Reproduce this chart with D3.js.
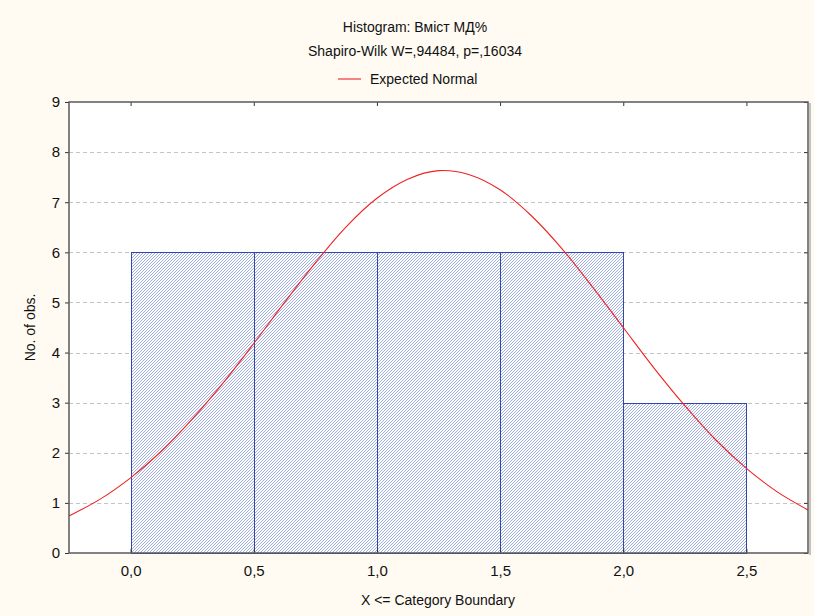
<!doctype html>
<html>
<head>
<meta charset="utf-8">
<script src="https://d3js.org/d3.v7.min.js"></script>
<style>
  body { margin: 0; background: #fffbf3; }
  svg { display: block; font-family: "Liberation Sans", Arial, sans-serif; }
</style>
</head>
<body>
<div id="chart"></div>
<script>
// histogram bins (upper boundary) and counts
var binStarts = [0.0, 0.5, 1.0, 1.5, 2.0];
var binWidth = 0.5;
var counts = [6, 6, 6, 6, 3];

// expected normal curve
var curveX = [-0.25, -0.125, 0, 0.125, 0.25, 0.375, 0.5, 0.625, 0.75, 0.875, 1.0, 1.125, 1.25,
              1.375, 1.5, 1.625, 1.75, 1.875, 2.0, 2.125, 2.25, 2.375, 2.5, 2.625, 2.75];
var curveY = [0.74, 1.07, 1.50, 2.03, 2.67, 3.39, 4.18, 5.00, 5.79, 6.51, 7.08, 7.46, 7.63,
              7.55, 7.25, 6.74, 6.08, 5.31, 4.50, 3.69, 2.94, 2.26, 1.69, 1.22, 0.86];

var xTicks = [0, 0.5, 1.0, 1.5, 2.0, 2.5];
var yTicks = [0, 1, 2, 3, 4, 5, 6, 7, 8, 9];

var title = "Histogram: Вміст МД%";
var subtitle = "Shapiro-Wilk W=,94484, p=,16034";

var width = 814, height = 616;
var margin = { left: 69, right: 6, top: 102, bottom: 63 };
var gWidth = width - margin.left - margin.right;
var gHeight = height - margin.top - margin.bottom;

var svg = d3.select("#chart").append("svg")
    .attr("width", width)
    .attr("height", height);

svg.append("rect").attr("width", width).attr("height", height).attr("fill", "#fffbf3");

var defs = svg.append("defs");
var pat = defs.append("pattern")
    .attr("id", "hatch")
    .attr("patternUnits", "userSpaceOnUse")
    .attr("width", 3).attr("height", 3);
pat.append("rect").attr("width", 3).attr("height", 3).attr("fill", "#ffffff");
pat.append("path")
    .attr("d", "M-1,1 l2,-2 M0,3 l3,-3 M2,4 l2,-2")
    .attr("stroke", "#7d92d8")
    .attr("stroke-width", 0.75);

var x = d3.scaleLinear().domain([-0.25, 2.75]).range([0, gWidth]);
var y = d3.scaleLinear().domain([0, 9]).range([gHeight, 0]);

var g = svg.append("g")
    .attr("transform", "translate(" + margin.left + "," + margin.top + ")");

g.append("rect")
    .attr("width", gWidth).attr("height", gHeight)
    .attr("fill", "#ffffff");

// grid
g.selectAll(".grid")
    .data(yTicks.filter(function(d) { return d > 0 && d < 9; }))
    .enter().append("line")
    .attr("x1", 0).attr("x2", gWidth)
    .attr("y1", function(d) { return Math.round(y(d)) + 0.5; })
    .attr("y2", function(d) { return Math.round(y(d)) + 0.5; })
    .attr("stroke", "#c4c4c4")
    .attr("stroke-dasharray", "4,3");

// bars
g.selectAll(".bar")
    .data(counts)
    .enter().append("rect")
    .attr("x", function(d, i) { return Math.round(x(binStarts[i])) + 0.5; })
    .attr("width", function(d, i) { return Math.round(x(binStarts[i] + binWidth)) - Math.round(x(binStarts[i])); })
    .attr("y", function(d) { return Math.round(y(d)) + 0.5; })
    .attr("height", function(d) { return Math.round(y(0)) - Math.round(y(d)); })
    .attr("fill", "url(#hatch)")
    .attr("stroke", "#3349a6")
    .attr("stroke-width", 1);

// normal curve
var line = d3.line()
    .x(function(d) { return x(d[0]); })
    .y(function(d) { return y(d[1]); })
    .curve(d3.curveCatmullRom);

g.append("path")
    .datum(curveX.map(function(v, i) { return [v, curveY[i]]; }))
    .attr("d", line)
    .attr("fill", "none")
    .attr("stroke", "#ee2222")
    .attr("stroke-width", 1.1);

// axes
var yAxis = d3.axisLeft(y).tickValues(yTicks).tickSize(4).tickPadding(5);
var yAxisG = g.append("g").call(yAxis);
yAxisG.select(".domain").remove();
yAxisG.selectAll("line").attr("stroke", "#333");
yAxisG.selectAll("text").attr("font-size", 15).attr("fill", "#111");

var yRight = d3.axisLeft(y).tickValues(yTicks).tickSize(4).tickFormat("");
var yRightG = g.append("g").attr("transform", "translate(" + gWidth + ",0)").call(yRight);
yRightG.select(".domain").remove();
yRightG.selectAll("line").attr("stroke", "#333");

var xAxis = d3.axisBottom(x).tickValues(xTicks).tickSize(4).tickPadding(8)
    .tickFormat(function(d) { return d3.format(".1f")(d).replace(".", ","); });
var xAxisG = g.append("g").attr("transform", "translate(0," + gHeight + ")").call(xAxis);
xAxisG.select(".domain").remove();
xAxisG.selectAll("line").attr("stroke", "#333").attr("y2", -4);
xAxisG.selectAll("text").attr("font-size", 15).attr("fill", "#111");

var xTop = d3.axisBottom(x).tickValues(xTicks).tickSize(4).tickFormat("");
var xTopG = g.append("g").call(xTop);
xTopG.select(".domain").remove();
xTopG.selectAll("line").attr("stroke", "#333");

// frame
g.append("rect")
    .attr("width", gWidth).attr("height", gHeight)
    .attr("fill", "none")
    .attr("stroke", "#5a5a5a")
    .attr("stroke-width", 1.5);
g.append("line")
    .attr("x1", gWidth + 2).attr("x2", gWidth + 2)
    .attr("y1", 1).attr("y2", gHeight + 2)
    .attr("stroke", "#b0b0b0").attr("stroke-width", 1.5);

// titles
svg.append("text").attr("x", 415).attr("y", 32)
    .attr("text-anchor", "middle").attr("font-size", 14).attr("fill", "#111")
    .text(title);
svg.append("text").attr("x", 415).attr("y", 56)
    .attr("text-anchor", "middle").attr("font-size", 14).attr("fill", "#111")
    .text(subtitle);

svg.append("line").attr("x1", 338).attr("x2", 361).attr("y1", 79).attr("y2", 79)
    .attr("stroke", "#ee2222").attr("stroke-width", 1.1);
svg.append("text").attr("x", 370).attr("y", 84)
    .attr("font-size", 14).attr("fill", "#111")
    .text("Expected Normal");

svg.append("text")
    .attr("x", 438).attr("y", 605)
    .attr("text-anchor", "middle").attr("font-size", 14).attr("fill", "#111")
    .text("X <= Category Boundary");

svg.append("text")
    .attr("transform", "translate(35," + (margin.top + gHeight / 2) + ") rotate(-90)")
    .attr("text-anchor", "middle").attr("font-size", 14).attr("fill", "#111")
    .text("No. of obs.");
</script>
</body>
</html>
